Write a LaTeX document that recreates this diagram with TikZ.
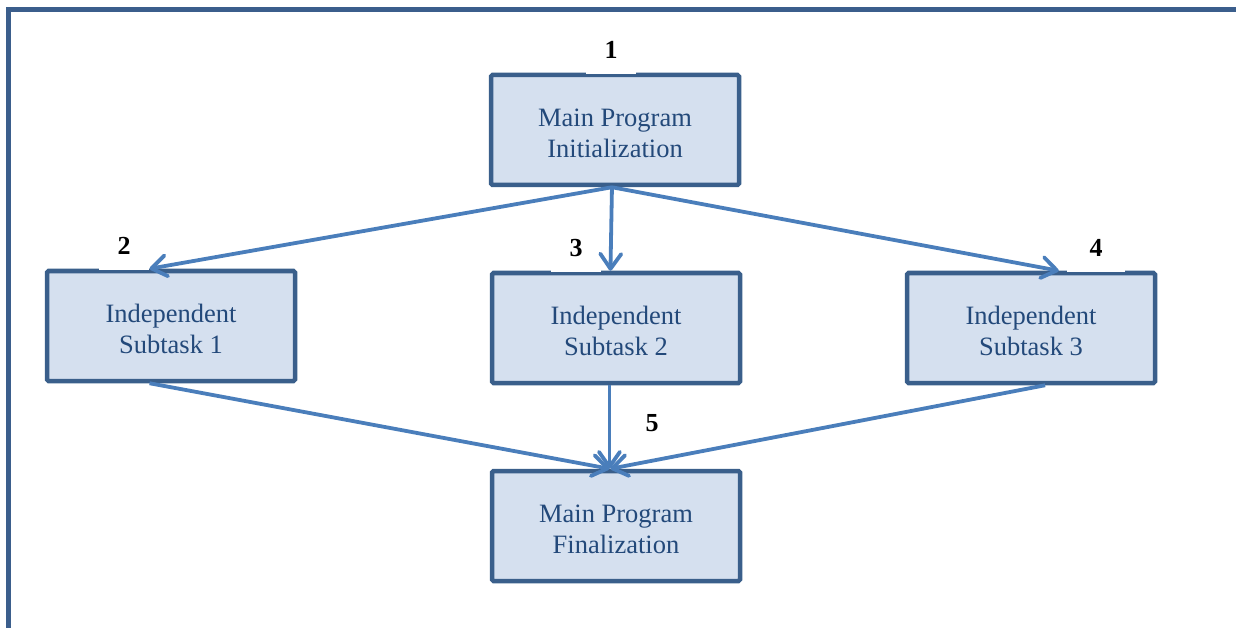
\documentclass[tikz,border=0pt]{standalone}
\usepackage{fontspec}
\setmainfont{Liberation Serif}
\usetikzlibrary{arrows.meta,calc}
\definecolor{frameblue}{HTML}{3B5E8C}
\definecolor{boxline}{HTML}{3A5F8B}
\definecolor{boxfill}{HTML}{D5E0EF}
\definecolor{boxtext}{HTML}{23497A}
\definecolor{arrowblue}{HTML}{4A7EBB}
% raises the first text line so the two-line block sits a little lower
\newcommand{\toppad}{\rule{0pt}{24pt}}
\tikzset{
  taskbox/.style={draw=boxline, fill=boxfill, line width=4.5pt, rounded corners=1.5pt,
    minimum width=248pt, minimum height=110pt, inner sep=0pt, align=center,
    text=boxtext, font=\fontsize{26.5}{31}\selectfont},
  steplabel/.style={fill=white, inner sep=0pt, minimum height=48pt,
    font=\fontsize{26}{30}\selectfont\bfseries},
  flow/.style={draw=arrowblue, line width=3.8pt,
    -{Straight Barb[length=15pt,width=21pt,line width=3.8pt,round]}}
}
\begin{document}
\begin{tikzpicture}[x=1pt,y=-1pt]
  \useasboundingbox (0,0) rectangle (1236,628);
  % outer frame, open on the right and bottom
  \draw[frameblue, line width=5pt] (8.5,628) -- (8.5,10) -- (1236,10);

  % tasks
  \node[taskbox] (init) at (615,130) {\toppad Main Program\\Initialization};
  \node[taskbox] (t1) at (171,326) {\toppad Independent\\Subtask 1};
  \node[taskbox] (t2) at (616,328) {\toppad Independent\\Subtask 2};
  \node[taskbox] (t3) at (1031,328) {\toppad Independent\\Subtask 3};
  \node[taskbox] (fin) at (616,526) {\toppad Main Program\\Finalization};

  % step numbers
  \node[steplabel, minimum width=50pt] (n1) at (611,50) {1};
  \node[steplabel, minimum width=50pt] (n2) at (124,246) {2};
  \node[steplabel, minimum width=50pt] (n3) at (576,248) {3};
  \node[steplabel, minimum width=58pt] (n4) at (1096,248) {4};
  \node[steplabel, minimum width=40pt] (n5) at (652,423) {5};

  % fork
  \draw[flow] ($(init.south west)!0.488!(init.south east)$) -- ($(t1.north west)!0.415!(t1.north east)$);
  \draw[flow] ($(init.south west)!0.488!(init.south east)$) -- ($(t2.north west)!0.478!(t2.north east)$);
  \draw[flow] ($(init.south west)!0.488!(init.south east)$) -- ($(t3.north west)!0.61!(t3.north east)$);
  % join
  \draw[flow] ($(t1.south west)!0.415!(t1.south east)$) -- ($(fin.north west)!0.474!(fin.north east)$);
  \draw[flow] ($(t2.south west)!0.474!(t2.south east)$) -- ($(fin.north west)!0.474!(fin.north east)$);
  \draw[flow] ($(t3.south west)!0.556!(t3.south east)$) -- ($(fin.north west)!0.478!(fin.north east)$);
\end{tikzpicture}
\end{document}
